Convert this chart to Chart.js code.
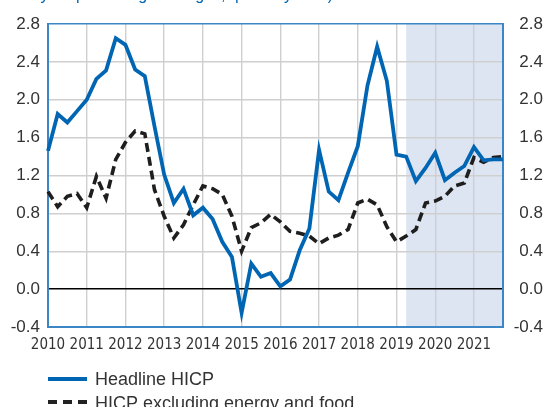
<!DOCTYPE html>
<html>
<head>
<meta charset="utf-8">
<script src="https://cdn.jsdelivr.net/npm/chart.js@4.4.1/dist/chart.umd.min.js"></script>
<style>
  html, body { margin: 0; padding: 0; background: #fff; }
  #wrap { position: relative; width: 549px; height: 407px; overflow: hidden; }
</style>
</head>
<body>
<div id="wrap"><canvas id="hicpChart" width="549" height="407"></canvas></div>
<script>
// quarterly data, 2010Q1 - 2021Q4
var years = [2010, 2011, 2012, 2013, 2014, 2015, 2016, 2017, 2018, 2019, 2020, 2021];
var quarters = [];
years.forEach(function(y) {
    for (var q = 1; q <= 4; q++) quarters.push(y + 'Q' + q);
});

var headlineHICP = [
    1.46, 1.85, 1.76, 1.88, 2.00, 2.22, 2.31, 2.65, 2.58, 2.32, 2.25, 1.72,
    1.21, 0.91, 1.06, 0.78, 0.86, 0.74, 0.50, 0.34, -0.25, 0.27, 0.13, 0.17,
    0.03, 0.10, 0.41, 0.64, 1.47, 1.03, 0.94, 1.23, 1.51, 2.15, 2.56, 2.20,
    1.42, 1.40, 1.14, 1.28, 1.44, 1.15, 1.23, 1.30, 1.50, 1.36, 1.37, 1.37
];
var coreHICP = [
    1.03, 0.87, 0.98, 1.01, 0.86, 1.19, 0.96, 1.37, 1.55, 1.67, 1.64, 1.05,
    0.77, 0.54, 0.68, 0.89, 1.09, 1.06, 1.00, 0.77, 0.40, 0.65, 0.70, 0.79,
    0.71, 0.61, 0.59, 0.56, 0.48, 0.54, 0.57, 0.63, 0.91, 0.95, 0.89, 0.66,
    0.50, 0.56, 0.63, 0.91, 0.93, 0.98, 1.09, 1.12, 1.39, 1.34, 1.39, 1.40
];
var yTicks = [-0.4, 0.0, 0.4, 0.8, 1.2, 1.6, 2.0, 2.4, 2.8];
var projectionStart = '2019Q2';
var subtitle = '(year-on-year percentage changes; quarterly data)';
var seriesNames = ['Headline HICP', 'HICP excluding energy and food'];

var BLUE = '#0066b3';
var BORDER_BLUE = '#3d86c6';
var SHADE = '#dde5f2';
var GRID = '#cfcfcf';
var TEXT = '#333333';

// light blue band behind the projection quarters
var shadePlugin = {
    id: 'shade',
    beforeDraw: function(chart) {
        var ctx = chart.ctx, area = chart.chartArea;
        var x0 = chart.scales.x.getPixelForValue(quarters.indexOf(projectionStart));
        ctx.save();
        ctx.fillStyle = SHADE;
        ctx.fillRect(x0, area.top, area.right - x0, area.bottom - area.top);
        ctx.restore();
    }
};

// cut-off subtitle on top and the legend under the axis
var textPlugin = {
    id: 'extraText',
    afterDraw: function(chart) {
        var ctx = chart.ctx;
        ctx.save();
        ctx.font = '16px "Liberation Sans", Arial, sans-serif';
        ctx.fillStyle = BLUE;
        ctx.textAlign = 'right';
        ctx.textBaseline = 'alphabetic';
        ctx.fillText(subtitle, 333, 0);

        ctx.font = '18px "Liberation Sans", Arial, sans-serif';
        ctx.textAlign = 'left';
        ctx.fillStyle = TEXT;
        ctx.lineWidth = 4;
        ctx.strokeStyle = BLUE;
        ctx.beginPath();
        ctx.moveTo(48, 379);
        ctx.lineTo(87, 379);
        ctx.stroke();
        ctx.fillText(seriesNames[0], 95, 385);

        ctx.strokeStyle = '#222';
        ctx.setLineDash([9, 6]);
        ctx.beginPath();
        ctx.moveTo(48, 402);
        ctx.lineTo(88, 402);
        ctx.stroke();
        ctx.setLineDash([]);
        ctx.fillText(seriesNames[1], 95, 409);
        ctx.restore();
    }
};

var yGridColor = function(c) {
    var v = c.tick ? c.tick.value : null;
    if (v === null) return GRID;
    if (Math.abs(v) < 1e-9) return '#000';
    if (Math.abs(v - 2.8) < 1e-9 || Math.abs(v + 0.4) < 1e-9) return BORDER_BLUE;
    return GRID;
};

var ctx = document.getElementById('hicpChart').getContext('2d');
var chart = new Chart(ctx, {
    type: 'line',
    data: {
        labels: quarters,
        datasets: [{
            label: seriesNames[0],
            data: headlineHICP,
            borderColor: BLUE,
            borderWidth: 3.8,
            pointRadius: 0,
            tension: 0,
            order: 1
        }, {
            label: seriesNames[1],
            data: coreHICP,
            borderColor: '#1e1e1e',
            borderWidth: 3.6,
            borderDash: [9, 5],
            pointRadius: 0,
            tension: 0,
            order: 2
        }]
    },
    options: {
        responsive: false,
        animation: false,
        layout: { padding: { left: 0, right: 6, top: 24, bottom: 0 } },
        plugins: {
            legend: { display: false },
            tooltip: { enabled: false }
        },
        scales: {
            x: {
                type: 'category',
                offset: false,
                afterFit: function(s) { s.height = 80; },
                grid: {
                    drawTicks: false,
                    lineWidth: 1.4,
                    color: function(c) {
                        return (c.index % 4 === 0) ? GRID : 'rgba(0,0,0,0)';
                    }
                },
                border: { color: BORDER_BLUE, width: 2 },
                ticks: {
                    autoSkip: false,
                    maxRotation: 0,
                    padding: 9,
                    color: TEXT,
                    font: { family: '"Liberation Sans Narrow", "DejaVu Sans Condensed", Arial, sans-serif', size: 15 },
                    callback: function(val, i) {
                        return i % 4 === 0 ? quarters[i].slice(0, 4) : '';
                    }
                }
            },
            y: {
                position: 'left',
                min: -0.4,
                max: 2.8,
                afterFit: function(s) { s.width = 48; },
                afterBuildTicks: function(s) { s.ticks = yTicks.map(function(v) { return { value: v }; }); },
                grid: { drawTicks: false, lineWidth: 1.4, color: yGridColor },
                border: { color: BORDER_BLUE, width: 2 },
                ticks: {
                    padding: 8,
                    color: TEXT,
                    font: { family: '"Liberation Sans", Arial, sans-serif', size: 17 },
                    callback: function(v) { return v.toFixed(1); }
                }
            },
            y2: {
                position: 'right',
                min: -0.4,
                max: 2.8,
                afterFit: function(s) { s.width = 40; },
                afterBuildTicks: function(s) { s.ticks = yTicks.map(function(v) { return { value: v }; }); },
                grid: { drawOnChartArea: false, drawTicks: false },
                border: { color: BORDER_BLUE, width: 2 },
                ticks: {
                    crossAlign: 'far',
                    color: TEXT,
                    font: { family: '"Liberation Sans", Arial, sans-serif', size: 17 },
                    callback: function(v) { return v.toFixed(1); }
                }
            }
        }
    },
    plugins: [shadePlugin, textPlugin]
});
</script>
</body>
</html>
